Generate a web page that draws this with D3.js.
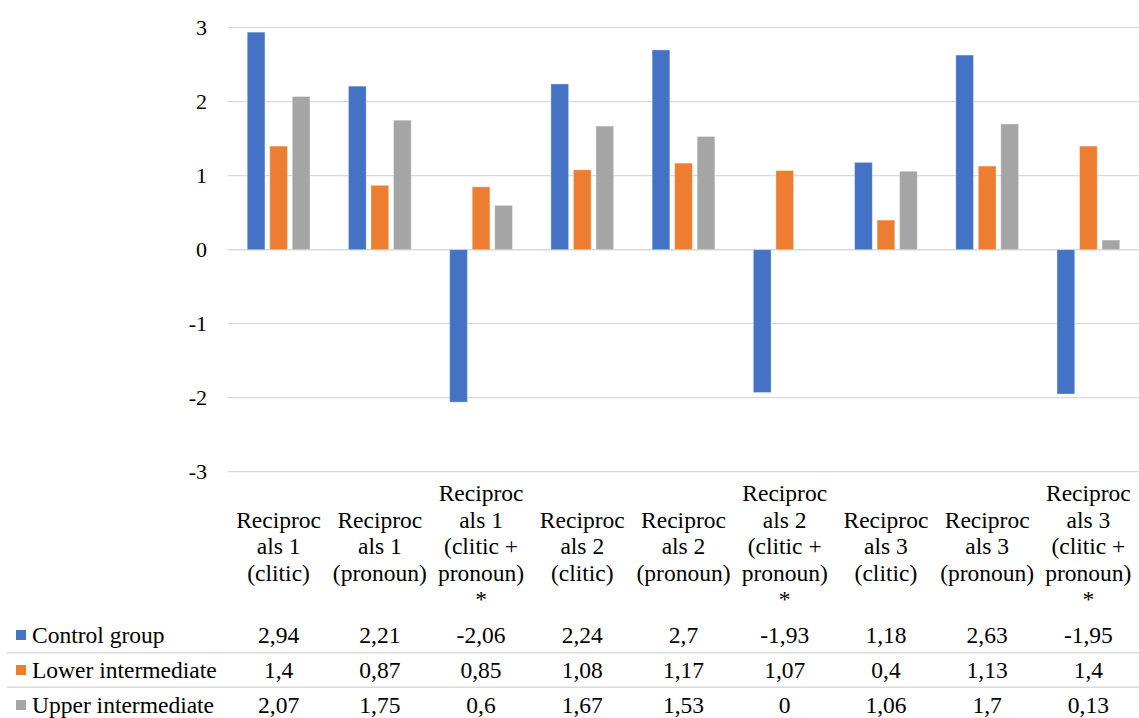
<!DOCTYPE html>
<html>
<head>
<meta charset="utf-8">
<script src="https://cdn.jsdelivr.net/npm/d3@7"></script>
<style>
  html, body { margin: 0; padding: 0; background: #fff; }
  text, tspan { font-family: "Liberation Serif", "Times New Roman", serif !important; }
</style>
</head>
<body>
<script>
// ---- data ----
const categories = [
  "Reciproc\nals 1\n(clitic)",
  "Reciproc\nals 1\n(pronoun)",
  "Reciproc\nals 1\n(clitic +\npronoun)\n*",
  "Reciproc\nals 2\n(clitic)",
  "Reciproc\nals 2\n(pronoun)",
  "Reciproc\nals 2\n(clitic +\npronoun)\n*",
  "Reciproc\nals 3\n(clitic)",
  "Reciproc\nals 3\n(pronoun)",
  "Reciproc\nals 3\n(clitic +\npronoun)\n*"
];
const seriesNames = ["Control group", "Lower intermediate", "Upper intermediate"];
const controlGroup = [2.94, 2.21, -2.06, 2.24, 2.7, -1.93, 1.18, 2.63, -1.95];
const lowerIntermediate = [1.4, 0.87, 0.85, 1.08, 1.17, 1.07, 0.4, 1.13, 1.4];
const upperIntermediate = [2.07, 1.75, 0.6, 1.67, 1.53, 0, 1.06, 1.7, 0.13];
const yTicks = [-3, -2, -1, 0, 1, 2, 3];
const colors = ["#4472C4", "#ED7D31", "#A5A5A5"];

const seriesValues = [controlGroup, lowerIntermediate, upperIntermediate];

// ---- layout ----
const FONT = "Liberation Serif";
const svg = d3.select("body").append("svg")
  .attr("width", 1139).attr("height", 718)
  .attr("font-family", FONT)
  .style("font-family", FONT);
const plotLeft = 228, plotRight = 1139;
const yTop = 27.7, yBottom = 471.7;
const fontSize = 23.5;

function serif(sel) {
  return sel.attr("font-family", FONT).style("font-family", FONT);
}

const x = d3.scaleBand().domain(d3.range(categories.length)).range([plotLeft, plotRight]).padding(0);
const bw = x.bandwidth();
const xInner = d3.scaleBand().domain(d3.range(seriesNames.length))
  .range([bw * 0.19, bw * 0.81]).paddingInner(0.213).paddingOuter(0);
const y = d3.scaleLinear().domain([-3, 3]).range([yBottom, yTop]);

// gridlines
svg.append("g").selectAll("line").data(yTicks).join("line")
  .attr("x1", plotLeft).attr("x2", plotRight)
  .attr("y1", d => y(d)).attr("y2", d => y(d))
  .attr("stroke", "#D9D9D9").attr("stroke-width", d => d === 0 ? 1.5 : 1.2);

// y axis labels
const yAxis = d3.axisLeft(y).tickValues(yTicks).tickSize(0).tickPadding(0)
  .tickFormat(d => String(d));
const gy = svg.append("g").attr("transform", `translate(207,0)`).call(yAxis);
serif(gy).attr("font-size", 22);
gy.select(".domain").remove();
serif(gy.selectAll("text")).attr("fill", "#000").attr("font-size", 22);

// bars
seriesValues.forEach((vals, si) => {
  svg.append("g").selectAll("rect").data(vals).join("rect")
    .attr("x", (d, i) => x(i) + xInner(si))
    .attr("width", xInner.bandwidth())
    .attr("y", d => y(Math.max(0, d)))
    .attr("height", d => Math.abs(y(d) - y(0)))
    .attr("fill", colors[si])
    .attr("stroke", d => d === 0 ? "none" : "rgba(255,255,255,0.35)")
    .attr("stroke-width", 1);
});

// category labels (vertically centred)
const lineH = 26.5;
const labelCenterY = 546;
categories.forEach((c, i) => {
  const lines = c.split("\n");
  const startY = labelCenterY - (lines.length - 1) * lineH / 2;
  lines.forEach((ln, j) => {
    serif(svg.append("text"))
      .attr("text-anchor", "middle")
      .attr("font-size", fontSize)
      .attr("fill", "#000")
      .attr("x", x(i) + bw / 2)
      .attr("y", startY + j * lineH)
      .attr("dy", "0.35em")
      .text(ln);
  });
});

// data table
const rowY = [635, 670, 705];
const sepY = [652.7, 687.3];
svg.append("g").selectAll("line").data(sepY).join("line")
  .attr("x1", 7).attr("x2", plotRight)
  .attr("y1", d => d).attr("y2", d => d)
  .attr("stroke", "#D9D9D9").attr("stroke-width", 1.5);

const fmt = v => String(v).replace(".", ",");
seriesNames.forEach((name, si) => {
  const g = svg.append("g");
  g.append("rect")
    .attr("x", 16).attr("y", rowY[si] - 5)
    .attr("width", 10).attr("height", 10)
    .attr("fill", colors[si]);
  serif(g.append("text"))
    .attr("x", 32).attr("y", rowY[si]).attr("dy", "0.35em")
    .attr("font-size", fontSize)
    .attr("fill", "#000")
    .text(name);
  serif(g.selectAll("text.val").data(seriesValues[si]).join("text"))
    .attr("class", "val")
    .attr("x", (d, i) => x(i) + bw / 2)
    .attr("y", rowY[si]).attr("dy", "0.35em")
    .attr("text-anchor", "middle")
    .attr("font-size", fontSize)
    .attr("fill", "#000")
    .text(d => fmt(d));
});
</script>
</body>
</html>
